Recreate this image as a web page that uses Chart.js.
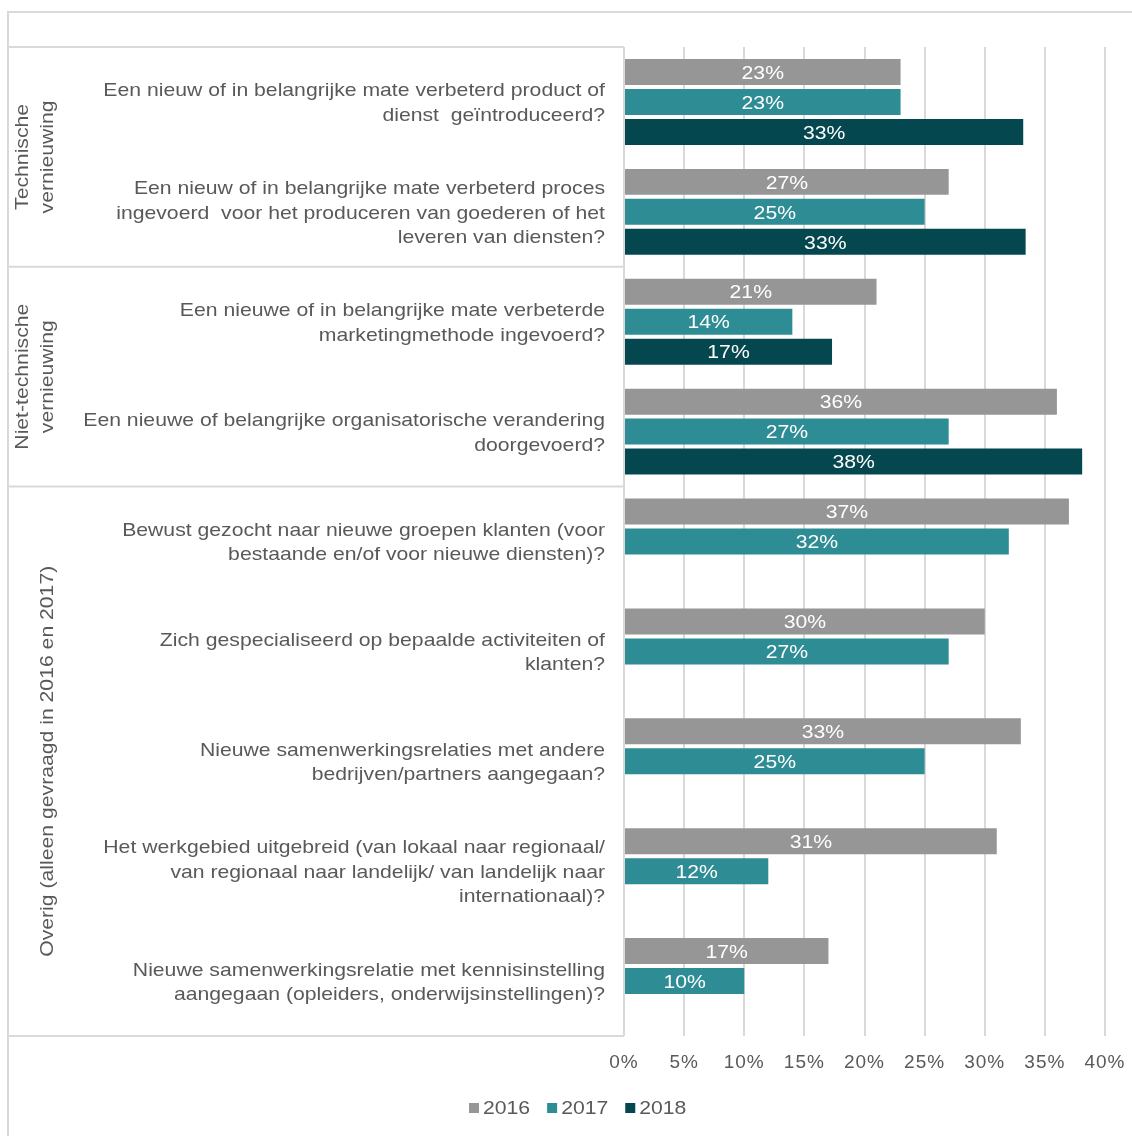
<!DOCTYPE html>
<html>
<head>
<meta charset="utf-8">
<script src="https://cdn.jsdelivr.net/npm/chart.js@4/dist/chart.umd.min.js"></script>
<style>
  html, body { margin: 0; padding: 0; background: #fff; }
  #wrap { width: 1132px; height: 1136px; position: relative; }
</style>
</head>
<body>
<div id="wrap"><canvas id="chart"></canvas></div>
<script>
// Vragen (categorieen), van boven naar beneden
const categories = [
    ['Een nieuw of in belangrijke mate verbeterd product of', 'dienst  geïntroduceerd?'],
    ['Een nieuw of in belangrijke mate verbeterd proces', 'ingevoerd  voor het produceren van goederen of het', 'leveren van diensten?'],
    ['Een nieuwe of in belangrijke mate verbeterde', 'marketingmethode ingevoerd?'],
    ['Een nieuwe of belangrijke organisatorische verandering', 'doorgevoerd?'],
    ['Bewust gezocht naar nieuwe groepen klanten (voor', 'bestaande en/of voor nieuwe diensten)?'],
    ['Zich gespecialiseerd op bepaalde activiteiten of', 'klanten?'],
    ['Nieuwe samenwerkingsrelaties met andere', 'bedrijven/partners aangegaan?'],
    ['Het werkgebied uitgebreid (van lokaal naar regionaal/', 'van regionaal naar landelijk/ van landelijk naar', 'internationaal)?'],
    ['Nieuwe samenwerkingsrelatie met kennisinstelling', 'aangegaan (opleiders, onderwijsinstellingen)?']
];

// groepen links (gedraaide tekst) + aantal vragen per groep
const groupNames = [
    ['Technische', 'vernieuwing'],
    ['Niet-technische', 'vernieuwing'],
    ['Overig (alleen gevraagd in 2016 en 2017)']
];
const groupSizes = [2, 2, 5];

const seriesNames = ['2016', '2017', '2018'];
const values2016 = [23, 27, 21, 36, 37, 30, 33, 31, 17];
const values2017 = [23, 25, 14, 27, 32, 27, 25, 12, 10];
const values2018 = [33.2, 33.4, 17.3, 38.1, null, null, null, null, null];
const seriesColors = ['#969696', '#2e8c94', '#05474f'];

const xTicks = [0, 5, 10, 15, 20, 25, 30, 35, 40];

const FONT = 'Arial, "Liberation Sans", sans-serif';
const TEXT = '#595959';
const LINE = '#d9d9d9';
const STRETCH = 1.115; // letters in het origineel zijn iets breder

const canvas = document.getElementById('chart');
canvas.width = 1132;
canvas.height = 1136;

// tekst horizontaal iets uitgerekt tekenen
function wideText(ctx, t, x, y, rot) {
    ctx.save();
    ctx.translate(x, y);
    if (rot) ctx.rotate(rot);
    ctx.scale(STRETCH, 1);
    ctx.fillText(t, 0, 0);
    ctx.restore();
}

const sidePlugin = {
    id: 'side',
    beforeDraw(chart) {
        // voor de as-labels van chart.js
        chart.ctx.letterSpacing = '1px';
    },
    beforeDatasetsDraw(chart) {
        const ctx = chart.ctx;
        const y = chart.scales.y;
        const area = chart.chartArea;
        const band = y.getPixelForValue(1) - y.getPixelForValue(0);
        const top = y.getPixelForValue(0) - band / 2;
        const bottom = y.getPixelForValue(categories.length - 1) + band / 2;
        ctx.save();
        ctx.letterSpacing = '0px';
        ctx.strokeStyle = LINE;
        ctx.lineWidth = 2;
        ctx.beginPath();
        // buitenkader
        ctx.moveTo(8, 1136); ctx.lineTo(8, 12); ctx.lineTo(1132, 12);
        // tabel kader
        ctx.moveTo(8, top); ctx.lineTo(area.left, top);
        ctx.moveTo(8, bottom); ctx.lineTo(area.left, bottom);
        ctx.moveTo(area.left, top); ctx.lineTo(area.left, bottom);
        let idx = 0;
        groupSizes.forEach((n, g) => {
            idx += n;
            if (g < groupSizes.length - 1) {
                const yy = y.getPixelForValue(idx) - band / 2;
                ctx.moveTo(8, yy); ctx.lineTo(area.left, yy);
            }
        });
        ctx.stroke();

        // vraagteksten
        ctx.fillStyle = TEXT;
        ctx.font = '19px ' + FONT;
        ctx.textAlign = 'right';
        ctx.textBaseline = 'middle';
        const lh = 24.5;
        categories.forEach((lines, i) => {
            const cy = y.getPixelForValue(i) + 1.5;
            lines.forEach((t, k) => {
                wideText(ctx, t, 605, cy + (k - (lines.length - 1) / 2) * lh);
            });
        });

        // groepsnamen, gedraaid
        ctx.textAlign = 'center';
        idx = 0;
        groupNames.forEach((lines, g) => {
            const y0 = y.getPixelForValue(idx) - band / 2;
            idx += groupSizes[g];
            const y1 = y.getPixelForValue(idx - 1) + band / 2;
            const cy = (y0 + y1) / 2;
            lines.forEach((t, k) => {
                const x = 48 - (lines.length - 1 - k) * 25;
                wideText(ctx, t, x, cy, -Math.PI / 2);
            });
        });
        ctx.restore();
    },
    afterDatasetsDraw(chart) {
        // waarden in de balken
        const ctx = chart.ctx;
        ctx.save();
        ctx.letterSpacing = '0px';
        ctx.fillStyle = '#ffffff';
        ctx.font = '19px ' + FONT;
        ctx.textAlign = 'center';
        ctx.textBaseline = 'middle';
        chart.data.datasets.forEach((ds, d) => {
            chart.getDatasetMeta(d).data.forEach((bar, i) => {
                const v = ds.data[i];
                if (v === null) return;
                wideText(ctx, Math.round(v) + '%', (bar.x + bar.base) / 2, bar.y + 1.5);
            });
        });
        ctx.restore();
    },
    afterDraw(chart) {
        // legenda
        const ctx = chart.ctx;
        ctx.save();
        ctx.letterSpacing = '0px';
        ctx.font = '19px ' + FONT;
        ctx.textBaseline = 'middle';
        ctx.textAlign = 'left';
        const cy = 1108;
        let x = 469;
        seriesNames.forEach((n, i) => {
            ctx.fillStyle = seriesColors[i];
            ctx.fillRect(x, cy - 5, 10, 10);
            ctx.fillStyle = TEXT;
            wideText(ctx, n, x + 14, cy + 1);
            x += 14 + ctx.measureText(n).width * STRETCH + 17;
        });
        ctx.restore();
    }
};

new Chart(canvas, {
    type: 'bar',
    data: {
        labels: categories,
        datasets: seriesNames.map((n, i) => ({
            label: n,
            data: [values2016, values2017, values2018][i],
            backgroundColor: seriesColors[i],
            borderWidth: 0,
            categoryPercentage: 90 / 110,
            barPercentage: 26 / 30
        }))
    },
    options: {
        indexAxis: 'y',
        responsive: false,
        animation: false,
        layout: { padding: { left: 624, right: 27, top: 47, bottom: 50 } },
        plugins: { legend: { display: false }, tooltip: { enabled: false } },
        scales: {
            y: { display: false },
            x: {
                min: 0,
                max: 40,
                afterFit(scale) {
                    scale.height = 50;
                    scale.paddingLeft = 0;
                    scale.paddingRight = 0;
                },
                afterBuildTicks(scale) { scale.ticks = xTicks.map(v => ({ value: v })); },
                border: { display: false },
                grid: { color: LINE, lineWidth: 2, drawTicks: false },
                ticks: {
                    padding: 15,
                    color: TEXT,
                    font: { family: FONT, size: 19 },
                    callback: v => v + '%'
                }
            }
        }
    },
    plugins: [sidePlugin]
});
</script>
</body>
</html>
